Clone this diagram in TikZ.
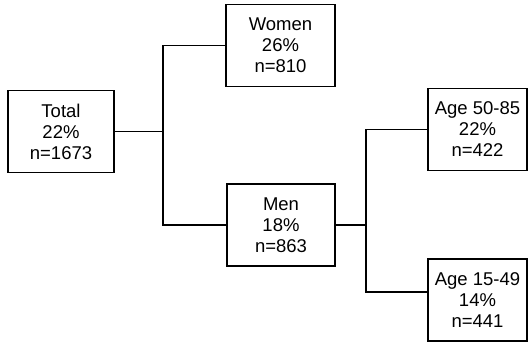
\documentclass[tikz,border=0pt]{standalone}
\usepackage{fontspec}
\setmainfont{Liberation Sans}
\tikzset{
  box/.style={draw, line width=1.2pt, align=center, inner sep=0pt,
    minimum height=82pt, font=\fontsize{18.5}{21}\selectfont},
  link/.style={line width=1.2pt}
}

\begin{document}
\begin{tikzpicture}[x=1pt,y=-1pt]
  \useasboundingbox (0,0) rectangle (528,342);
  % boxes
  \node[box, minimum width=106pt] (total) at (61,131.5) {Total\\22\%\\n=1673};
  \node[box, minimum width=109pt] (women) at (280.5,45.5) {Women\\26\%\\n=810};
  \node[box, minimum width=108pt] (men) at (281,225) {Men\\18\%\\n=863};
  \node[box, minimum width=99pt] (old) at (477.5,129.5) {Age 50-85\\22\%\\n=422};
  \node[box, minimum width=99pt] (young) at (477.5,300) {Age 15-49\\14\%\\n=441};
  % branches
  \coordinate (split1) at (163,131.5);
  \coordinate (split2) at (366,225);
  \draw[link] (total.east) -- (split1) |- (women.west);
  \draw[link] (split1) |- (men.west);
  \draw[link] (men.east) -- (split2) |- (old.west);
  \draw[link] (split2) |- ([yshift=8pt]young.west);
\end{tikzpicture}
\end{document}
